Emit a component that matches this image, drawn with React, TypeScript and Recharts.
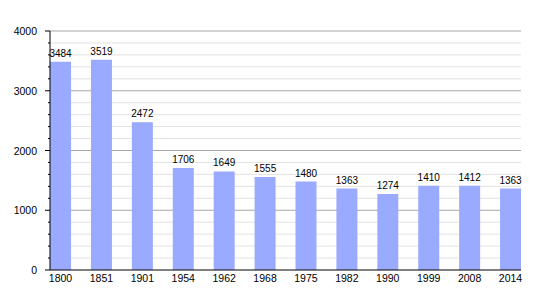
import React from 'react';
import { BarChart, Bar, XAxis, YAxis, CartesianGrid, LabelList } from 'recharts';

const years = ['1800', '1851', '1901', '1954', '1962', '1968', '1975', '1982', '1990', '1999', '2008', '2014'];
const population = [3484, 3519, 2472, 1706, 1649, 1555, 1480, 1363, 1274, 1410, 1412, 1363];
const yTicks = [0, 200, 400, 600, 800, 1000, 1200, 1400, 1600, 1800, 2000, 2200, 2400, 2600, 2800, 3000, 3200, 3400, 3600, 3800, 4000];
const minorValues = yTicks.filter((v) => v % 1000 !== 0);
const majorValues = [1000, 2000, 3000, 4000];

const data = years.map((y, i) => ({ year: y, pop: population[i] }));

const FONT = '"Liberation Sans", Arial, sans-serif';

const YTick = (props: any) => {
  const { x, y, payload } = props;
  const major = payload.value % 1000 === 0;
  return (
    <g>
      <line x1={x - (major ? 5 : 2)} x2={x} y1={y} y2={y} stroke="#000" strokeWidth={1} />
      {major && (
        <text x={x - 13} y={y} dy={4} textAnchor="end" fontSize={10.5} fill="#000" fontFamily={FONT}>
          {payload.value}
        </text>
      )}
    </g>
  );
};

export default function App() {
  return (
    <BarChart
      width={542}
      height={292}
      data={data}
      margin={{ top: 23, right: 29, bottom: 0, left: 0 }}
    >
      <CartesianGrid vertical={false} horizontalValues={minorValues} stroke="#e2e2e2" />
      <CartesianGrid vertical={false} horizontalValues={majorValues} stroke="#a8a8a8" />
      <XAxis
        dataKey="year"
        type="category"
        scale="point"
        padding={{ left: 10.5, right: 10.5 }}
        axisLine={{ stroke: '#000' }}
        tickLine={false}
        tickSize={0}
        tickMargin={5}
        height={30}
        interval={0}
        tick={{ fontSize: 10.5, fill: '#000', fontFamily: FONT }}
      />
      <YAxis
        type="number"
        domain={[0, 4000]}
        ticks={yTicks}
        interval={0}
        width={42}
        axisLine={{ stroke: '#000' }}
        tickLine={false}
        tickSize={0}
        tickMargin={0}
        tick={<YTick />}
      />
      <Bar dataKey="pop" fill="#99aaff" barSize={21} isAnimationActive={false}>
        <LabelList dataKey="pop" position="top" offset={5} fontSize={10} fill="#000" fontFamily={FONT} />
      </Bar>
    </BarChart>
  );
}
